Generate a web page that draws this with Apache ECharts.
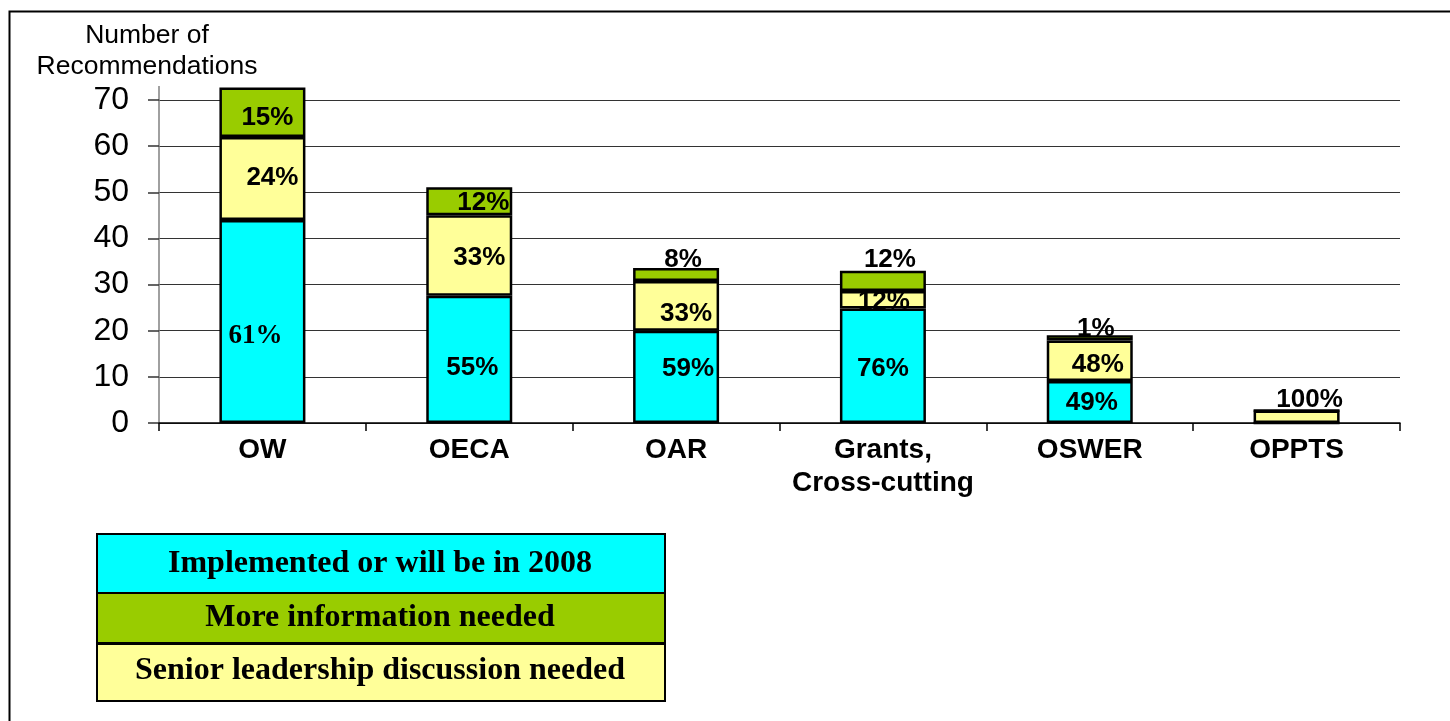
<!DOCTYPE html>
<html>
<head>
<meta charset="utf-8">
<script src="https://cdn.jsdelivr.net/npm/echarts@6/dist/echarts.min.js"></script>
<style>
  html, body { margin: 0; padding: 0; background: #fff; }
  #chart { width: 1450px; height: 721px; }
</style>
</head>
<body>
<div id="chart"></div>
<script>
// ---- Data ----
const categories = ['OW', 'OECA', 'OAR', 'Grants,\nCross-cutting', 'OSWER', 'OPPTS'];
const implemented = [44, 27.6, 20, 24.8, 9.1, 0];
const seniorDiscussion = [18, 17.4, 10.8, 3.8, 8.8, 2.7];
const moreInfo = [10.7, 6.1, 2.8, 4.4, 1.1, 0];
const implementedPct = ['61%', '55%', '59%', '76%', '49%', ''];
const seniorPct = ['24%', '33%', '33%', '12%', '48%', '100%'];
const moreInfoPct = ['15%', '12%', '8%', '12%', '1%', ''];
const legendLabels = ['Implemented or will be in 2008', 'More information needed', 'Senior leadership discussion needed'];
const axisTitle = 'Number of\nRecommendations';

// ---- Layout / style (not data) ----
const COLORS = { implemented: '#00FFFF', more: '#99CC00', senior: '#FFFF99' };
const implOffsets = [[-7, 15], [3, 9], [12, -8], [0, 3], [2, 1], [0, 0]];
const seniorOffsets = [[10, -1], [10, 2], [10, 8], [1, 2], [8, 4], [13, 5]];
const seniorPositions = ['inside', 'inside', 'inside', 'inside', 'inside', 'top'];
const moreOffsets = [[5, 6], [14, 2], [7, 8], [7, 5], [6, 9], [0, 0]];
const morePositions = ['inside', 'inside', 'top', 'top', 'top', 'top'];

const labelBase = {
  show: true, color: '#000', fontSize: 26, fontWeight: 'bold',
  fontFamily: 'Liberation Sans, Arial, sans-serif', distance: 3
};
const itemStyle = (c) => ({ color: c, borderColor: '#000', borderWidth: 2.5 });

function buildData(values, pcts, offsets, positions, serifIdx) {
  return values.map((v, i) => {
    const lbl = { formatter: pcts[i], offset: offsets[i], position: positions ? positions[i] : 'inside' };
    if (serifIdx !== undefined && serifIdx === i) {
      lbl.fontFamily = 'Liberation Serif, Times New Roman, serif';
      lbl.fontSize = 27;
    }
    return { value: v, label: lbl };
  });
}

const chart = echarts.init(document.getElementById('chart'), null, { renderer: 'canvas' });

const legendX = 96, legendW = 568;
const legendRows = [
  { y: 533, h: 59, fill: COLORS.implemented, text: legendLabels[0], ty: 564 },
  { y: 592, h: 50, fill: COLORS.more, text: legendLabels[1], ty: 618 },
  { y: 643, h: 57, fill: COLORS.senior, text: legendLabels[2], ty: 671 }
];
const legendGraphics = [];
legendRows.forEach((r) => {
  legendGraphics.push({
    type: 'rect', left: legendX, top: r.y, silent: true,
    shape: { width: legendW, height: r.h },
    style: { fill: r.fill, stroke: '#000', lineWidth: 2 }
  });
  legendGraphics.push({
    type: 'text', silent: true,
    x: legendX + legendW / 2, y: r.ty,
    style: {
      text: r.text, fill: '#000', font: 'bold 32px "Liberation Serif", "Times New Roman", serif',
      textAlign: 'center', textVerticalAlign: 'middle'
    }
  });
});

const option = {
  backgroundColor: '#fff',
  animation: false,
  grid: { left: 159, right: 50, top: 100, bottom: 298, containLabel: false },
  xAxis: {
    type: 'category',
    data: categories,
    axisLine: { show: true, lineStyle: { color: '#000', width: 1.5 } },
    axisTick: { show: true, alignWithLabel: false, length: 8, lineStyle: { color: '#000', width: 1.5 } },
    axisLabel: {
      color: '#000', fontSize: 28, fontWeight: 'bold', lineHeight: 33,
      fontFamily: 'Liberation Sans, Arial, sans-serif', margin: 11, interval: 0
    },
    splitLine: { show: false }
  },
  yAxis: {
    type: 'value',
    min: 0, max: 70, interval: 10,
    name: axisTitle,
    nameLocation: 'end',
    nameGap: 18,
    nameTextStyle: {
      color: '#000', fontSize: 26.5, lineHeight: 31, align: 'center',
      fontFamily: 'Liberation Sans, Arial, sans-serif', padding: [0, 24, 0, 0]
    },
    axisLine: { show: true, lineStyle: { color: '#808080', width: 1.5 } },
    axisTick: { show: true, inside: false, length: 11, lineStyle: { color: '#333', width: 1.5 } },
    axisLabel: {
      color: '#000', fontSize: 32, fontFamily: 'Liberation Sans, Arial, sans-serif', margin: 30
    },
    splitLine: { show: true, lineStyle: { color: '#333', width: 1.2 } }
  },
  graphic: [
    {
      type: 'rect', silent: true, z: -10, left: 7, top: 9,
      shape: { width: 1500, height: 800 },
      style: { fill: 'none', stroke: '#000', lineWidth: 2 }
    },
    {
      type: 'line', silent: true,
      shape: { x1: 159, y1: 86, x2: 159, y2: 100 },
      style: { stroke: '#808080', lineWidth: 1.5 }
    }
  ].concat(legendGraphics),
  series: [
    {
      name: legendLabels[0], type: 'bar', stack: 'total', barWidth: 86, clip: false,
      itemStyle: itemStyle(COLORS.implemented), label: labelBase,
      data: buildData(implemented, implementedPct, implOffsets, null, 0)
    },
    {
      name: legendLabels[2], type: 'bar', stack: 'total', barWidth: 86, clip: false,
      itemStyle: itemStyle(COLORS.senior), label: labelBase,
      data: buildData(seniorDiscussion, seniorPct, seniorOffsets, seniorPositions)
    },
    {
      name: legendLabels[1], type: 'bar', stack: 'total', barWidth: 86, clip: false,
      itemStyle: itemStyle(COLORS.more), label: labelBase,
      data: buildData(moreInfo, moreInfoPct, moreOffsets, morePositions)
    }
  ]
};
chart.setOption(option);
</script>
</body>
</html>
